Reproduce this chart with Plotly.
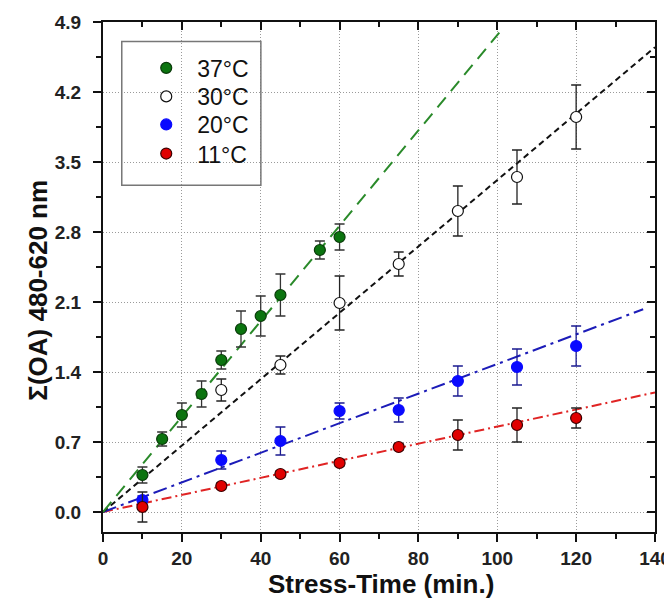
import plotly.graph_objects as go

# ---- data ----
t37 = [10, 15, 20, 25, 30, 35, 40, 45, 55, 60]
y37 = [0.37, 0.73, 0.97, 1.18, 1.52, 1.83, 1.96, 2.17, 2.62, 2.75]
e37 = [0.08, 0.07, 0.12, 0.13, 0.09, 0.18, 0.20, 0.21, 0.09, 0.13]

t30 = [30, 45, 60, 75, 90, 105, 120]
y30 = [1.22, 1.47, 2.09, 2.48, 3.01, 3.35, 3.95]
e30 = [0.11, 0.09, 0.27, 0.12, 0.25, 0.27, 0.32]

t20 = [10, 30, 45, 60, 75, 90, 105, 120]
y20 = [0.12, 0.52, 0.71, 1.01, 1.02, 1.31, 1.45, 1.66]
e20 = [0.04, 0.09, 0.14, 0.08, 0.12, 0.15, 0.18, 0.20]

t11 = [10, 30, 45, 60, 75, 90, 105, 120]
y11 = [0.05, 0.26, 0.38, 0.49, 0.65, 0.77, 0.87, 0.94]
e11 = [0.15, 0.03, 0.03, 0.03, 0.03, 0.15, 0.17, 0.10]

# linear fits through origin (slope, end of drawn line)
slope37, end37 = 0.0477, 101
slope30, end30 = 0.0332, 140
slope20, end20 = 0.0148, 137
slope11, end11 = 0.00854, 140

labels = ["37°C", "30°C", "20°C", "11°C"]

x_ticks = [0, 20, 40, 60, 80, 100, 120, 140]
y_ticks = [0.0, 0.7, 1.4, 2.1, 2.8, 3.5, 4.2, 4.9]

FONT = "Liberation Sans, Arial"
fig = go.Figure()

def fit(slope, end, color, dash):
    xs = [0, end]
    fig.add_trace(go.Scatter(x=xs, y=[slope * v for v in xs], mode="lines",
                             line=dict(color=color, width=2, dash=dash),
                             showlegend=False, hoverinfo="skip"))

fit(slope11, end11, "#e02424", "10px,4px,2px,4px")
fit(slope20, end20, "#1c1cb8", "14px,5px,3px,5px")
fit(slope30, end30, "#111111", "6px,4px")
fit(slope37, end37, "#2a8a2a", "13px,8px")

def pts(x, y, e, name, fill, ecolor, lcolor, leg):
    fig.add_trace(go.Scatter(
        x=x, y=y, mode="markers", name=name, legend=leg,
        error_y=dict(type="data", array=e, visible=True, color=ecolor,
                     thickness=1.3, width=5),
        marker=dict(size=11, color=fill, line=dict(color=lcolor, width=1.2)),
    ))

pts(t37, y37, e37, labels[0], "#0b740f", "#333333", "#0a3a0a", "legend")
pts(t30, y30, e30, labels[1], "#ffffff", "#222222", "#111111", "legend2")
pts(t20, y20, e20, labels[2], "#0a0aff", "#1a1a90", "#0a0aff", "legend3")
pts(t11, y11, e11, labels[3], "#e00000", "#222222", "#3a0000", "legend4")

# dummy trace for mirrored axes
fig.add_trace(go.Scatter(x=[0], y=[0], xaxis="x2", yaxis="y2", mode="markers",
                         marker=dict(opacity=0), showlegend=False, hoverinfo="skip"))

tickfont = dict(family=FONT, size=19, color="#222222", weight="bold")
common = dict(showline=True, linecolor="#111111", linewidth=2, automargin=False,
              ticklen=8, tickwidth=2, tickcolor="#111111", zeroline=False)
grid = dict(showgrid=True, gridcolor="#9a9a9a", griddash="1px,2px", gridwidth=1)

def legend_at(yc):
    return dict(x=0.0584, y=yc, xanchor="left", yanchor="middle",
                bgcolor="rgba(0,0,0,0)", borderwidth=0, itemwidth=52,
                font=dict(family=FONT, size=23, color="#111111"))

# the page body adds an 8px offset, so the figure is 8px smaller than the window
fig.update_layout(
    width=664, height=593,
    margin=dict(l=95, r=17, t=14, b=69),
    plot_bgcolor="white", paper_bgcolor="white",
    font=dict(family=FONT, color="#111111"),
    xaxis=dict(range=[0, 140], tickvals=x_ticks, ticks="outside",
               tickfont=tickfont, ticklabelstandoff=0,
               minor=dict(dtick=10, ticks="outside", ticklen=5, tickwidth=1.5,
                          tickcolor="#111111", showgrid=False),
               **grid, **common),
    yaxis=dict(range=[-0.2, 4.9], tickvals=y_ticks, ticks="outside",
               tickformat=".1f", tickfont=tickfont, ticklabelstandoff=8,
               minor=dict(tick0=0, dtick=0.35, ticks="outside", ticklen=5,
                          tickwidth=1.5, tickcolor="#111111", showgrid=False),
               **grid, **common),
    xaxis2=dict(range=[0, 140], overlaying="x", side="top", tickvals=x_ticks,
                ticks="inside", showticklabels=False, showgrid=False,
                minor=dict(dtick=10, ticks="inside", ticklen=5, tickwidth=1.5,
                           tickcolor="#111111"),
                **common),
    yaxis2=dict(range=[-0.2, 4.9], overlaying="y", side="right", tickvals=y_ticks,
                ticks="inside", showticklabels=False, showgrid=False,
                minor=dict(tick0=0, dtick=0.35, ticks="inside", ticklen=5,
                           tickwidth=1.5, tickcolor="#111111"),
                **common),
    legend=legend_at(0.910),
    legend2=legend_at(0.854),
    legend3=legend_at(0.799),
    legend4=legend_at(0.742),
    showlegend=True,
    shapes=[dict(type="rect", xref="paper", yref="paper",
                 x0=0.034, x1=0.286, y0=0.68, y1=0.962,
                 line=dict(color="#777777", width=1.5), fillcolor="rgba(0,0,0,0)")],
    annotations=[
        dict(text="<b>Stress-Time (min.)</b>", xref="paper", yref="paper",
             x=0.503, y=-0.102, xanchor="center", yanchor="middle", showarrow=False,
             font=dict(family=FONT, size=26, color="#111111")),
        dict(text="<b>Σ(OA) 480-620 nm</b>", xref="paper", yref="paper",
             x=-0.117, y=0.474, xanchor="center", yanchor="middle", showarrow=False,
             textangle=-90,
             font=dict(family=FONT, size=26, color="#111111")),
    ],
)

fig.write_html("out.html")
